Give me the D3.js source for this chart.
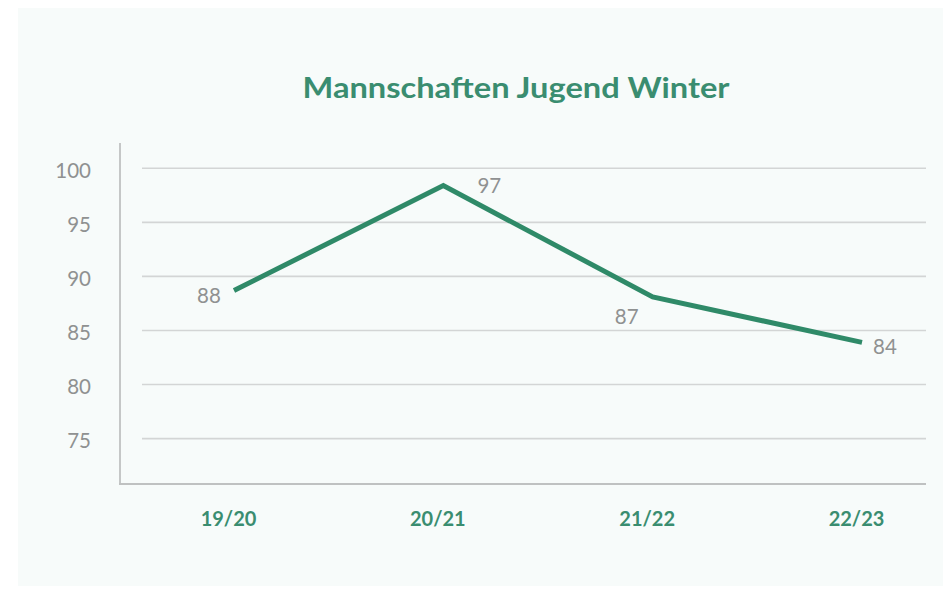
<!DOCTYPE html>
<html><head><meta charset="utf-8">
<script src="https://cdn.jsdelivr.net/npm/d3@7"></script>
<style>
html,body{margin:0;padding:0;background:#fff;}
svg{display:block;}
</style></head>
<body>
<svg id="chart" width="947" height="589"></svg>
<script>
const title = "Mannschaften Jugend Winter";
const seasons = ["19/20", "20/21", "21/22", "22/23"];
const plotted = [88.7, 98.4, 88.1, 83.9];
const labels = ["88", "97", "87", "84"];
const yTicks = [75, 80, 85, 90, 95, 100];

const svg = d3.select("#chart");
const font = "'Lato', 'Noto Sans', sans-serif";
svg.append("rect").attr("x", 18).attr("y", 8).attr("width", 925).attr("height", 578).attr("fill", "#f7fbfa");

const x = d3.scalePoint().domain(seasons).range([234, 862]);
const y = d3.scaleLinear().domain([70.8, 100]).range([484, 168.3]);

// gridlines
svg.append("g").selectAll("line").data(yTicks).join("line")
  .attr("x1", 142).attr("x2", 926)
  .attr("y1", d => y(d)).attr("y2", d => y(d))
  .attr("stroke", "#d3d5d5").attr("stroke-width", 1.6);

// y axis
const yAxis = d3.axisLeft(y).tickValues(yTicks).tickSize(0).tickPadding(29);
const gy = svg.append("g").attr("transform", "translate(120,0)").call(yAxis);
gy.select(".domain").remove();
gy.selectAll("text").attr("font-family", font).attr("font-size", 20.5).attr("fill", "#8f9191").attr("dy", "0.45em");
svg.append("line").attr("x1", 120).attr("x2", 120).attr("y1", 143).attr("y2", 485).attr("stroke", "#bfc1c1").attr("stroke-width", 1.8);

// x axis
const xAxis = d3.axisBottom(x).tickSize(0).tickPadding(28);
const gx = svg.append("g").attr("transform", "translate(0,484)").call(xAxis);
gx.select(".domain").remove();
gx.selectAll("text").attr("font-family", font).attr("font-size", 20).attr("font-weight", "bold").attr("fill", "#3a8d70").attr("dx", -6);
svg.append("line").attr("x1", 119).attr("x2", 926).attr("y1", 484).attr("y2", 484).attr("stroke", "#bfc1c1").attr("stroke-width", 1.8);

// line
const line = d3.line().x((d, i) => x(seasons[i])).y(d => y(d));
svg.append("path").datum(plotted).attr("d", line)
  .attr("fill", "none").attr("stroke", "#2f8a68").attr("stroke-width", 5).attr("stroke-linejoin", "miter");

// data labels
const offsets = [[-25, 5], [46, 0], [-26, 20], [23, 4]];
svg.append("g").selectAll("text").data(plotted).join("text")
  .attr("x", (d, i) => x(seasons[i]) + offsets[i][0])
  .attr("y", (d, i) => y(d) + offsets[i][1])
  .attr("dy", "0.36em")
  .attr("text-anchor", "middle")
  .attr("font-family", font).attr("font-size", 20.5).attr("fill", "#8f9191")
  .text((d, i) => labels[i]);

// title
svg.append("text").attr("x", 516).attr("y", 98).attr("text-anchor", "middle")
  .attr("font-family", font).attr("font-size", 29).attr("font-weight", "bold").attr("fill", "#3a8d70")
  .attr("textLength", 427).attr("lengthAdjust", "spacingAndGlyphs")
  .text(title);
</script>
</body></html>
